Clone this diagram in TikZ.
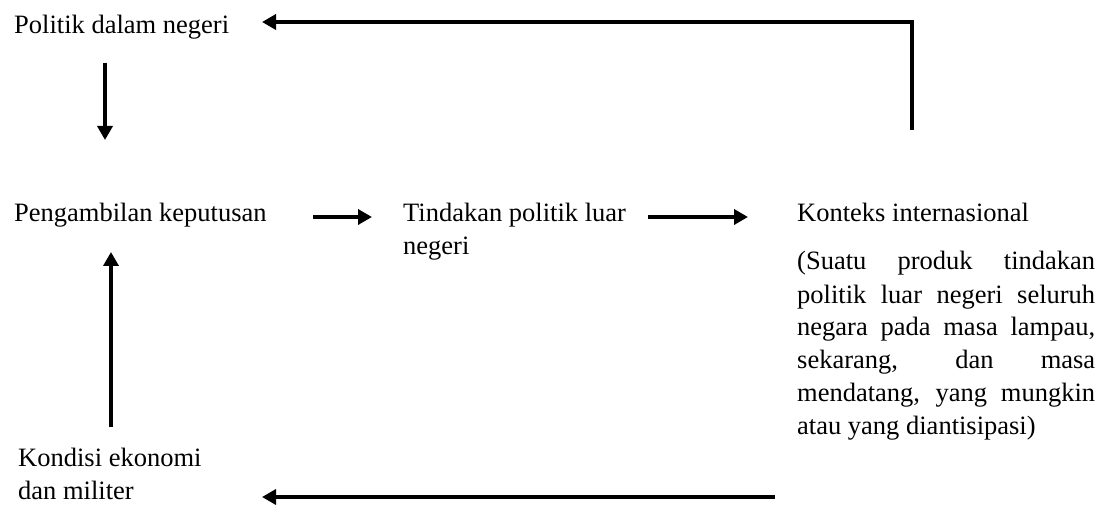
\documentclass[tikz,border=0pt]{standalone}
\usepackage{fontspec}
\setmainfont{Liberation Serif}
\usetikzlibrary{arrows.meta}
\begin{document}
\begin{tikzpicture}[x=1pt,y=-1pt,
  font=\fontsize{26.5}{33}\selectfont,
  lbl/.style={anchor=base west, inner sep=0pt},
  conn/.style={line width=4.5pt, line join=miter, -{Triangle[width=15pt,length=14pt]}},
  plainline/.style={line width=4.5pt}
]
\useasboundingbox (0,0) rectangle (1109,505);
% texts
\node[lbl] (pdn) at (14,34) {Politik dalam negeri};
\node[lbl] (pk) at (14,222) {Pengambilan keputusan};
\node[lbl] (tpl) at (403,222) {\parbox[t]{240pt}{\raggedright Tindakan politik luar\\negeri}};
\node[lbl] (ki) at (797,222) {Konteks internasional};
\node[lbl] (desc) at (797,270) {\parbox[t]{298pt}{\tolerance=10000 (Suatu produk tindakan\linebreak politik luar negeri seluruh\linebreak negara pada masa lampau,\linebreak sekarang, dan masa\linebreak mendatang, yang mungkin\linebreak atau yang diantisipasi)}};
\node[lbl] (kem) at (18,466) {\parbox[t]{240pt}{\raggedright Kondisi ekonomi\\dan militer}};
% connector end points
\coordinate (kiTop) at (912,130);
\coordinate (pdnR) at (262,22);
\coordinate (pdnB) at (105,63);
\coordinate (pkT) at (105,140);
\coordinate (pkR) at (313,217);
\coordinate (tplL) at (372,217);
\coordinate (tplR) at (648,217);
\coordinate (kiL) at (748,217);
\coordinate (kemT) at (111,427);
\coordinate (pkB) at (111,252);
\coordinate (descB) at (775,497);
\coordinate (kemR) at (262,497);
% connectors
\draw[conn] (kiTop) |- (pdnR);
\draw[conn] (pdnB) -- (pkT);
\draw[conn] (pkR) -- (tplL);
\draw[conn] (tplR) -- (kiL);
\draw[conn] (kemT) -- (pkB);
\draw[conn] (descB) -- (kemR);
\end{tikzpicture}
\end{document}
